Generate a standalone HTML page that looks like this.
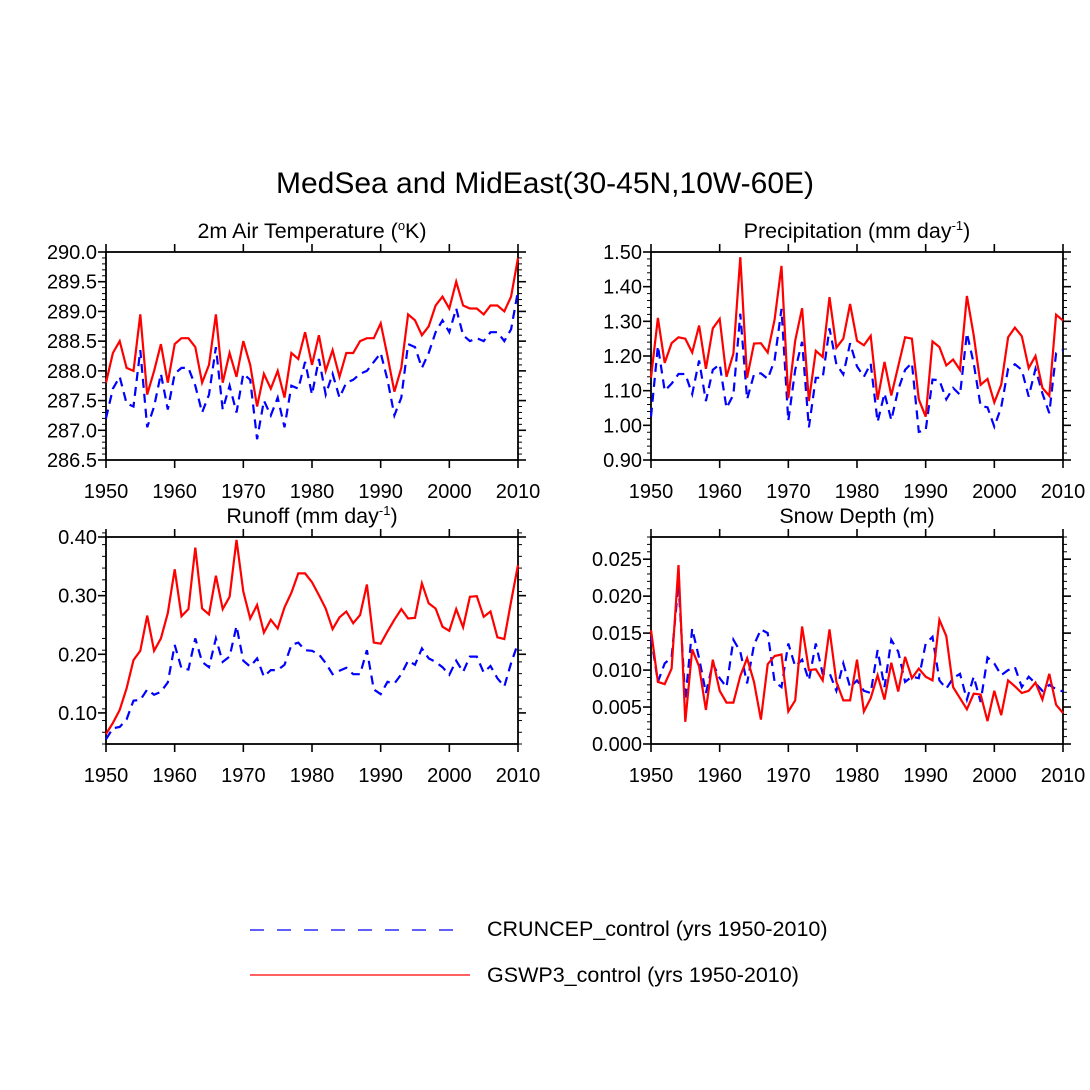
<!DOCTYPE html>
<html><head><meta charset="utf-8"><style>
html,body{margin:0;padding:0;background:#fff;}
svg{display:block;font-family:"Liberation Sans",sans-serif;}
</style></head><body>
<svg id="chart" width="1090" height="1090" viewBox="0 0 1090 1090" xmlns="http://www.w3.org/2000/svg">
<text x="545" y="193" font-size="30" text-anchor="middle">MedSea and MidEast(30-45N,10W-60E)</text>
<g>
<line x1="250" y1="930" x2="462" y2="930" stroke="#00f" stroke-width="1.3" stroke-dasharray="14,13"/>
<text x="487" y="936" font-size="21.5">CRUNCEP_control (yrs 1950-2010)</text>
<line x1="250" y1="975" x2="470" y2="975" stroke="#f00" stroke-width="1.3"/>
<text x="487" y="982" font-size="21.5">GSWP3_control (yrs 1950-2010)</text>
</g>
</svg>
<script>
const years=[];for(let y=1950;y<=2010;y++)years.push(y);
const xTicks=[1950,1960,1970,1980,1990,2000,2010];
const tempRed=[287.8,288.3,288.5,288.05,288.0,288.95,287.6,288.0,288.45,287.8,288.45,288.55,288.55,288.4,287.8,288.1,288.95,287.8,288.3,287.9,288.5,288.1,287.4,287.95,287.7,288.0,287.55,288.3,288.2,288.65,288.1,288.6,288.0,288.35,287.9,288.3,288.3,288.5,288.55,288.55,288.8,288.25,287.65,288.05,288.95,288.85,288.6,288.75,289.1,289.25,289.05,289.5,289.1,289.05,289.05,288.95,289.1,289.1,289.0,289.25,289.9];
const tempBlue=[287.2,287.7,287.9,287.45,287.4,288.35,287.05,287.4,287.95,287.35,287.95,288.05,288.05,287.75,287.3,287.6,288.4,287.35,287.75,287.3,287.95,287.85,286.85,287.5,287.25,287.55,287.05,287.75,287.7,288.15,287.6,288.2,287.6,287.95,287.55,287.8,287.85,287.95,288.0,288.15,288.3,287.85,287.25,287.55,288.45,288.4,288.05,288.3,288.65,288.85,288.65,289.05,288.6,288.5,288.55,288.5,288.65,288.65,288.5,288.7,289.35];
const precRed=[1.137,1.31,1.18,1.237,1.254,1.25,1.21,1.288,1.163,1.28,1.307,1.14,1.207,1.485,1.137,1.236,1.237,1.21,1.305,1.46,1.078,1.244,1.338,1.07,1.215,1.197,1.37,1.224,1.25,1.35,1.244,1.231,1.258,1.074,1.183,1.086,1.17,1.254,1.25,1.075,1.025,1.242,1.226,1.173,1.19,1.16,1.373,1.26,1.117,1.134,1.066,1.117,1.254,1.282,1.257,1.165,1.2,1.108,1.085,1.319,1.302];
const precBlue=[1.025,1.229,1.1,1.12,1.148,1.148,1.09,1.187,1.07,1.16,1.176,1.05,1.088,1.322,1.075,1.147,1.15,1.134,1.188,1.336,1.013,1.16,1.241,0.994,1.137,1.137,1.28,1.176,1.147,1.237,1.17,1.14,1.178,1.01,1.092,1.015,1.103,1.16,1.18,0.981,0.986,1.132,1.13,1.075,1.108,1.088,1.266,1.179,1.056,1.052,0.996,1.052,1.163,1.176,1.16,1.083,1.163,1.092,1.035,1.208,1.217];
const runRed=[0.064,0.083,0.105,0.142,0.19,0.206,0.266,0.206,0.227,0.27,0.345,0.265,0.277,0.382,0.278,0.268,0.334,0.277,0.298,0.395,0.307,0.261,0.284,0.237,0.259,0.244,0.28,0.305,0.338,0.338,0.323,0.301,0.278,0.243,0.263,0.273,0.253,0.267,0.319,0.22,0.218,0.239,0.259,0.277,0.261,0.262,0.321,0.287,0.278,0.247,0.24,0.277,0.246,0.298,0.299,0.264,0.273,0.229,0.226,0.29,0.352];
const runBlue=[0.055,0.074,0.076,0.089,0.121,0.122,0.14,0.131,0.136,0.152,0.216,0.176,0.174,0.227,0.187,0.178,0.227,0.187,0.196,0.248,0.189,0.179,0.193,0.162,0.173,0.173,0.182,0.216,0.22,0.207,0.206,0.2,0.185,0.166,0.172,0.177,0.166,0.166,0.207,0.14,0.132,0.153,0.15,0.166,0.189,0.182,0.21,0.193,0.187,0.178,0.165,0.189,0.17,0.196,0.196,0.169,0.18,0.159,0.145,0.185,0.219];
const snowRed=[15.4,8.4,8.1,10.2,24.2,3.0,12.8,10.5,4.6,11.4,7.2,5.6,5.6,9.2,11.6,8.4,3.3,10.8,11.9,12.1,4.4,5.9,15.9,10.0,10.1,8.6,15.5,8.4,5.9,5.9,11.4,4.4,6.2,9.3,6.0,11.0,7.1,11.8,8.9,10.2,9.1,8.6,16.8,14.6,7.7,6.2,4.7,6.8,6.7,3.1,7.2,3.9,8.6,7.8,6.9,7.2,8.3,6.0,9.5,5.3,4.2];
const snowBlue=[14.5,8.4,10.9,11.7,21.8,5.9,15.6,11.6,6.9,10.9,8.9,7.7,14.1,12.5,8.2,13.4,15.5,15.0,8.4,7.7,13.6,10.5,11.4,8.6,13.6,9.5,9.6,7.2,10.9,7.7,8.6,7.2,6.9,12.7,7.7,14.1,12.5,8.4,9.1,8.9,13.6,14.5,8.6,7.5,8.9,9.5,6.0,9.1,5.7,11.7,10.9,9.3,10.0,10.4,7.7,9.1,8.2,7.2,8.0,7.4,7.1];
const tempTicks=[286.5,287.0,287.5,288.0,288.5,289.0,289.5,290.0];
const precTicks=[0.9,1.0,1.1,1.2,1.3,1.4,1.5];
const runTicks=[0.1,0.2,0.3,0.4];
const snowTicks=[0,0.005,0.01,0.015,0.02,0.025];

const NS="http://www.w3.org/2000/svg";
const svg=document.getElementById('chart');
function mk(tag,attrs,parent){const e=document.createElementNS(NS,tag);for(const k in attrs)e.setAttribute(k,attrs[k]);(parent||svg).appendChild(e);return e;}

function panel(cfg){
  const g=mk('g',{});
  
  
  const L=cfg.x0,R=cfg.x1,T=cfg.y0,B=cfg.y1;
  const xs=y=>L+(y-1950)/60*(R-L);
  const ys=v=>B-(v-cfg.min)/(cfg.max-cfg.min)*(B-T);
  const t=mk('text',{x:(L+R)/2,y:T-14,'font-size':21.5,'text-anchor':'middle'},g);
  
  
  t.innerHTML=cfg.title;
  const nMin=Math.round((cfg.max-cfg.min)/cfg.minor);
  for(let i=0;i<=nMin;i++){const v=cfg.min+i*cfg.minor;const yy=ys(v);
    mk('line',{x1:L-4,y1:yy,x2:L,y2:yy,stroke:'#000','stroke-width':1},g);
    mk('line',{x1:R,y1:yy,x2:R+4,y2:yy,stroke:'#000','stroke-width':1},g);}
  cfg.ticks.forEach(v=>{const yy=ys(v);
    mk('line',{x1:L-8,y1:yy,x2:L,y2:yy,stroke:'#000','stroke-width':1.6},g);
    mk('line',{x1:R,y1:yy,x2:R+8,y2:yy,stroke:'#000','stroke-width':1.6},g);
    const lb=mk('text',{x:L-9,y:yy+7,'font-size':20,'text-anchor':'end'},g);
    
    
    lb.textContent=v.toFixed(cfg.dec);});
  xTicks.forEach(v=>{const xx=xs(v);
    mk('line',{x1:xx,y1:B,x2:xx,y2:B+8,stroke:'#000','stroke-width':1.6},g);
    mk('line',{x1:xx,y1:T-8,x2:xx,y2:T,stroke:'#000','stroke-width':1.6},g);
    const lb=mk('text',{x:xx,y:B+38,'font-size':20,'text-anchor':'middle'},g);
    
    
    lb.textContent=v;});
  const fr=mk('rect',{x:L,y:T,width:R-L,height:B-T,fill:'none',stroke:'#000','stroke-width':1.8},g);
  
  
  const pts=a=>a.map((v,i)=>xs(years[i]).toFixed(1)+','+ys(v*cfg.scale).toFixed(1)).join(' ');
  const pb=mk('polyline',{points:pts(cfg.blue),fill:'none',stroke:'#00f','stroke-width':2.2,'stroke-dasharray':'9,6'},g);
  
  
  const pr=mk('polyline',{points:pts(cfg.red),fill:'none',stroke:'#f00','stroke-width':2.2},g);
  
  
}
panel({name:'temperature-panel',x0:106,x1:518,y0:252,y1:460,min:286.5,max:290.0,minor:0.1,ticks:tempTicks,dec:1,scale:1,red:tempRed,blue:tempBlue,title:'2m Air Temperature (<tspan dy="-8" font-size="13">o</tspan><tspan dy="8">K)</tspan>'});
panel({name:'precipitation-panel',x0:651,x1:1063,y0:252,y1:460,min:0.9,max:1.5,minor:0.02,ticks:precTicks,dec:2,scale:1,red:precRed,blue:precBlue,title:'Precipitation (mm day<tspan dy="-8" font-size="13">-1</tspan><tspan dy="8">)</tspan>'});
panel({name:'runoff-panel',x0:106,x1:518,y0:537,y1:744,min:0.047,max:0.4,minor:0.02,ticks:runTicks,dec:2,scale:1,red:runRed,blue:runBlue,title:'Runoff (mm day<tspan dy="-8" font-size="13">-1</tspan><tspan dy="8">)</tspan>'});
panel({name:'snow-depth-panel',x0:651,x1:1063,y0:537,y1:744,min:0,max:0.028,minor:0.001,ticks:snowTicks,dec:3,scale:0.001,red:snowRed,blue:snowBlue,title:'Snow Depth (m)'});
</script>
</body></html>
